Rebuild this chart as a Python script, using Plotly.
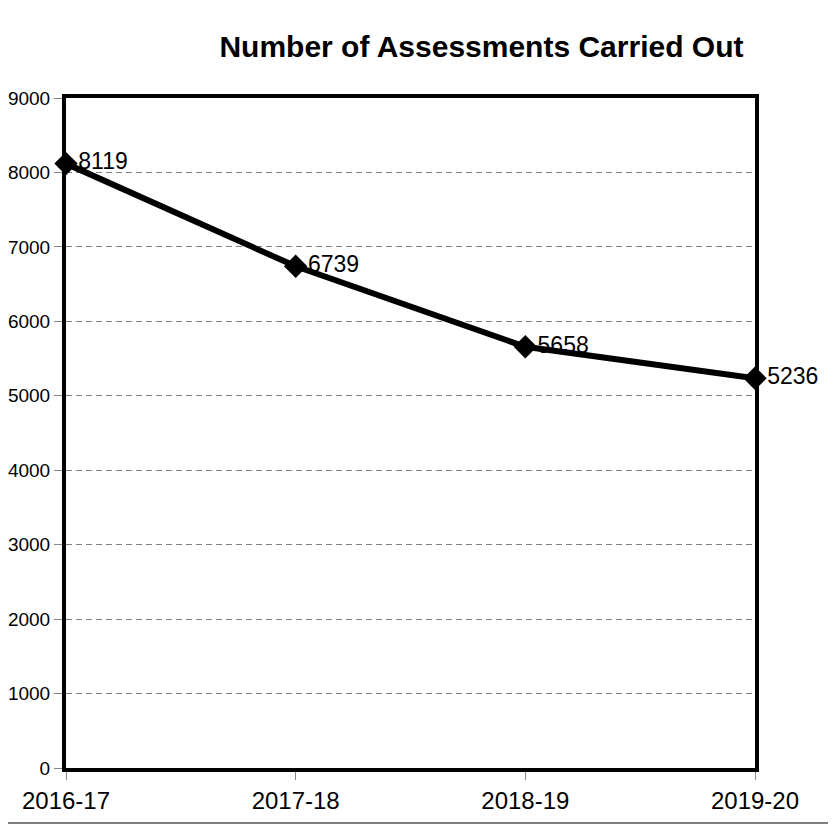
import plotly.graph_objects as go

years = ["2016-17", "2017-18", "2018-19", "2019-20"]
assessments = [8119, 6739, 5658, 5236]
y_ticks = [0, 1000, 2000, 3000, 4000, 5000, 6000, 7000, 8000, 9000]

W, H = 828, 818
L, R, T, B = 58, 81, 90, 58
pw, ph = W - L - R, H - T - B

fig = go.Figure()
fig.add_trace(go.Scatter(
    x=years, y=assessments,
    mode="lines+markers+text",
    line=dict(color="black", width=6),
    marker=dict(symbol="diamond", size=18, color="black"),
    text=[str(v) for v in assessments],
    textposition="middle right",
    textfont=dict(family="Liberation Sans, Arial, sans-serif", size=23, color="black"),
    cliponaxis=False,
    showlegend=False,
))

fig.update_layout(
    width=W, height=H,
    margin=dict(l=L, r=R, t=T, b=B, autoexpand=False),
    paper_bgcolor="white", plot_bgcolor="white",
    font=dict(family="Liberation Sans, Arial, sans-serif", color="black"),
    title=dict(text="<b>Number of Assessments Carried Out</b>",
               x=0.603, xref="paper", xanchor="center",
               y=1 - 38 / H, yref="container", yanchor="middle",
               font=dict(size=30, color="black")),
    xaxis=dict(type="category", range=[0, 3], showline=True, linecolor="black",
               linewidth=4, mirror=True, showgrid=False, ticks="outside",
               ticklen=8, tickcolor="#888888", tickwidth=1, automargin=False,
               tickfont=dict(size=24), zeroline=False),
    yaxis=dict(range=[0, 9000], tickvals=y_ticks, showline=True, linecolor="black",
               linewidth=4, mirror=True, showgrid=True, gridcolor="#808080",
               griddash="6px,4px", gridwidth=1, ticks="outside", ticklen=8,
               tickcolor="#888888", tickwidth=1, tickfont=dict(size=19),
               automargin=False, zeroline=False),
    shapes=[dict(type="line", xref="paper", yref="paper", x0=-100 / pw, x1=(W - L + 20) / pw,
                 y0=-(815 - (H - B)) / ph, y1=-(815 - (H - B)) / ph,
                 line=dict(color="#555555", width=1.5))],
)

fig.write_html("out.html")
